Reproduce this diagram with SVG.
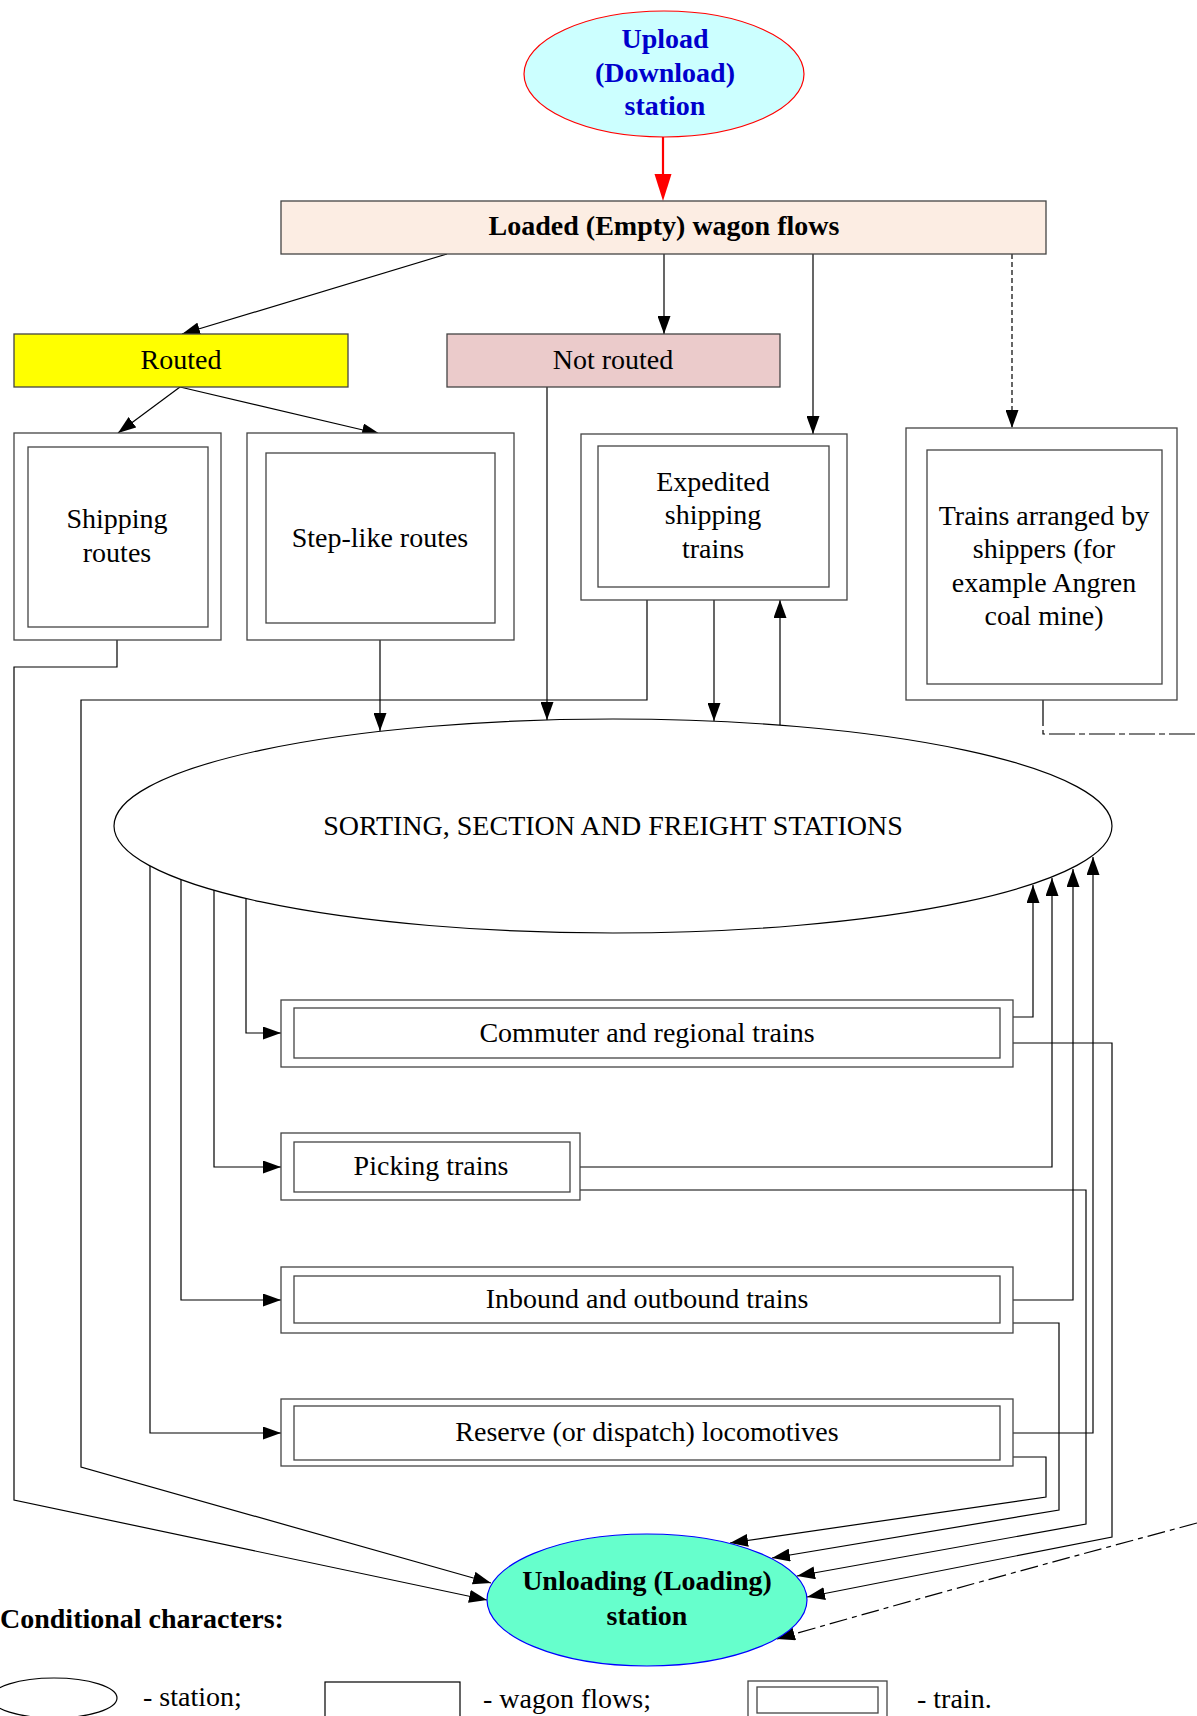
<svg xmlns="http://www.w3.org/2000/svg" width="1197" height="1716" viewBox="0 0 1197 1716">
<style>
  text { font-family: "Liberation Serif", "Times New Roman", serif; font-size: 28px; fill: #000; text-anchor: middle; }
  .b { font-weight: bold; }
  .box { fill: #fff; stroke: #444; stroke-width: 1.3; }
  .inner { fill: none; stroke: #444; stroke-width: 1.3; }
  .c { fill: none; stroke: #000; stroke-width: 1.2; }
  .ca { fill: none; stroke: #000; stroke-width: 1.2; marker-end: url(#ah); }
</style>
<defs>
  <marker id="ah" markerUnits="userSpaceOnUse" markerWidth="18" markerHeight="13" refX="18" refY="6.5" orient="auto">
    <path d="M0,0 L18,6.5 L0,13 z" fill="#000"/>
  </marker>
</defs>
<rect x="0" y="0" width="1197" height="1716" fill="#fff"/>

<g id="connectors">
  <path d="M663,137 V176" stroke="#ff0000" stroke-width="2.2" fill="none"/>
  <path d="M654.5,174 L671.5,174 L663,201 z" fill="#ff0000"/>
  <path class="ca" d="M447,254 L182,334"/>
  <path class="ca" d="M664,254 V334"/>
  <path class="ca" d="M813,254 V434"/>
  <path class="ca" d="M1012,254 V428" stroke-dasharray="5,3"/>
  <path class="ca" d="M180,387 L118,433"/>
  <path class="ca" d="M180,387 L380,434"/>
  <path class="ca" d="M380,640 V731"/>
  <path class="ca" d="M547,387 V720"/>
  <path class="ca" d="M714,600 V721"/>
  <path class="ca" d="M780,725 V600"/>
  <path class="c" d="M1043,700 V734 H1197" stroke-dasharray="26,4,6,4"/>
  <path class="ca" d="M117,640 V667 H14 V1500 L487,1600"/>
  <path class="ca" d="M647,600 V700 H81 V1467 L491,1583"/>
  <path class="ca" d="M246,898 V1033 H281"/>
  <path class="ca" d="M214,890 V1167 H281"/>
  <path class="ca" d="M181,880 V1300 H281"/>
  <path class="ca" d="M150,866 V1433 H281"/>
  <path class="ca" d="M1013,1017 H1033 V885"/>
  <path class="ca" d="M580,1167 H1052 V878"/>
  <path class="ca" d="M1013,1300 H1073 V869"/>
  <path class="ca" d="M1013,1433 H1093 V857"/>
  <path class="ca" d="M1013,1457 H1046 V1497 L730,1543"/>
  <path class="ca" d="M1013,1323 H1059 V1510 L772,1558"/>
  <path class="ca" d="M580,1190 H1086 V1524 L797,1576"/>
  <path class="ca" d="M1013,1043 H1112 V1537 L807,1597"/>
  <path class="ca" d="M1197,1523 C1060,1560 930,1595 777,1639" stroke-dasharray="18,5,5,5"/>
</g>

<g id="upload">
  <ellipse cx="664" cy="74" rx="140" ry="63" fill="#ccffff" stroke="#ff0000" stroke-width="1.2"/>
  <text class="b" x="665" y="48" style="fill:#0000cc">Upload</text>
  <text class="b" x="665" y="82" style="fill:#0000cc">(Download)</text>
  <text class="b" x="665" y="115" style="fill:#0000cc">station</text>
</g>

<g id="loaded">
  <rect x="281" y="201" width="765" height="53" fill="#fcede3" stroke="#444" stroke-width="1.3"/>
  <text class="b" x="664" y="235">Loaded (Empty) wagon flows</text>
</g>

<g id="routed">
  <rect x="14" y="334" width="334" height="53" fill="#ffff00" stroke="#444" stroke-width="1.3"/>
  <text x="181" y="369">Routed</text>
</g>

<g id="not-routed">
  <rect x="447" y="334" width="333" height="53" fill="#ebcbcb" stroke="#444" stroke-width="1.3"/>
  <text x="613" y="369">Not routed</text>
</g>

<g id="shipping-routes">
  <rect class="box" x="14" y="433" width="207" height="207"/>
  <rect class="inner" x="28" y="447" width="180" height="180"/>
  <text x="117" y="528">Shipping</text>
  <text x="117" y="562">routes</text>
</g>

<g id="step-like">
  <rect class="box" x="247" y="433" width="267" height="207"/>
  <rect class="inner" x="266" y="453" width="229" height="170"/>
  <text x="380" y="547">Step-like routes</text>
</g>

<g id="expedited">
  <rect class="box" x="581" y="434" width="266" height="166"/>
  <rect class="inner" x="598" y="446" width="231" height="141"/>
  <text x="713" y="491">Expedited</text>
  <text x="713" y="524">shipping</text>
  <text x="713" y="558">trains</text>
</g>

<g id="shippers-trains">
  <rect class="box" x="906" y="428" width="271" height="272"/>
  <rect class="inner" x="927" y="450" width="235" height="234"/>
  <text x="1044" y="525">Trains arranged by</text>
  <text x="1044" y="558">shippers (for</text>
  <text x="1044" y="592">example Angren</text>
  <text x="1044" y="625">coal mine)</text>
</g>

<g id="sorting">
  <ellipse cx="613" cy="826" rx="499" ry="107" fill="none" stroke="#000" stroke-width="1.2"/>
  <text x="613" y="835">SORTING, SECTION AND FREIGHT STATIONS</text>
</g>

<g id="commuter">
  <rect class="box" x="281" y="1000" width="732" height="67"/>
  <rect class="inner" x="294" y="1008" width="706" height="50"/>
  <text x="647" y="1042">Commuter and regional trains</text>
</g>

<g id="picking">
  <rect class="box" x="281" y="1133" width="299" height="67"/>
  <rect class="inner" x="294" y="1142" width="276" height="50"/>
  <text x="431" y="1175">Picking trains</text>
</g>

<g id="inbound">
  <rect class="box" x="281" y="1267" width="732" height="66"/>
  <rect class="inner" x="294" y="1276" width="706" height="47"/>
  <text x="647" y="1308">Inbound and outbound trains</text>
</g>

<g id="reserve">
  <rect class="box" x="281" y="1399" width="732" height="67"/>
  <rect class="inner" x="294" y="1406" width="706" height="54"/>
  <text x="647" y="1441">Reserve (or dispatch) locomotives</text>
</g>

<g id="unloading">
  <ellipse cx="647" cy="1600" rx="160" ry="66" fill="#66ffcc" stroke="#0000ff" stroke-width="1.2"/>
  <text class="b" x="647" y="1590">Unloading (Loading)</text>
  <text class="b" x="647" y="1625">station</text>
</g>

<g id="legend">
  <text class="b" x="0" y="1628" style="text-anchor:start">Conditional characters:</text>
  <ellipse cx="54" cy="1698" rx="63" ry="20" fill="none" stroke="#000" stroke-width="1.2"/>
  <text x="143" y="1706" style="text-anchor:start">- station;</text>
  <rect x="325" y="1682" width="135" height="45" fill="none" stroke="#000" stroke-width="1.2"/>
  <text x="483" y="1708" style="text-anchor:start">- wagon flows;</text>
  <rect x="748" y="1681" width="139" height="45" fill="none" stroke="#444" stroke-width="1.3"/>
  <rect x="757" y="1687" width="121" height="26" fill="none" stroke="#444" stroke-width="1.3"/>
  <text x="917" y="1708" style="text-anchor:start">- train.</text>
</g>
</svg>
